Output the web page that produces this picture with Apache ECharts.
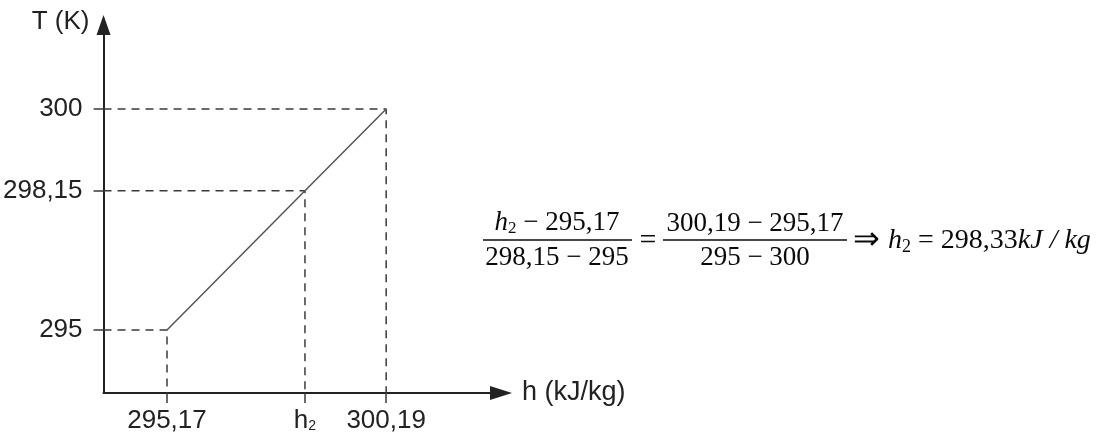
<!DOCTYPE html>
<html>
<head>
<meta charset="utf-8">
<script src="https://cdn.jsdelivr.net/npm/echarts@6/dist/echarts.min.js"></script>
<style>
  html, body { margin: 0; padding: 0; background: #fff; }
  #chart { width: 1110px; height: 436px; }
</style>
</head>
<body>
<div id="chart"></div>
<script>
// Linear interpolation between two tabulated states: enthalpy (kJ/kg) vs temperature (K)
const hValues = [295.17, 298.33, 300.19];
const tValues = [295, 298.15, 300];
const hTickLabels = ['295,17', 'h{sub|2}', '300,19'];
const tTickLabels = ['295', '298,15', '300'];

// Axis extents (leave room between the origin and the first tabulated state)
const X_MIN = 293.716, X_MAX = 302.82;
const Y_MIN = 293.575, Y_MAX = 301.90;

const fmt = v => String(v).replace('.', ',');
const lookup = (vals, labels) => v => {
  const i = vals.findIndex(a => Math.abs(a - v) < 1e-6);
  return i >= 0 ? labels[i] : '';
};

const AXIS_COLOR = '#222';
const GUIDE_COLOR = '#3a3a3a';
const SANS = 'Liberation Sans, Arial, sans-serif';
const LABEL_FONT = { fontFamily: SANS, fontSize: 26, color: '#222' };

// Dashed guides from each state down to the h-axis and across to the T-axis
const guideSeries = hValues.map((h, i) => ({
  type: 'line',
  data: [[X_MIN, tValues[i]], [h, tValues[i]], [h, Y_MIN]],
  showSymbol: false,
  symbol: 'none',
  silent: true,
  lineStyle: { color: GUIDE_COLOR, width: 1.5, type: [8, 6] },
  z: 2
}));

// Interpolation formula typeset beside the plot
const SERIF = "'Liberation Serif', 'Times New Roman', serif";
const INK = '#0a0a0a';
const eqFont = `27px ${SERIF}`;
const eqRich = {
  i: { font: `italic 27px ${SERIF}`, fill: INK },
  s: { font: `17px ${SERIF}`, fill: INK, padding: [12, 0, 0, 0] },
  n: { font: eqFont, fill: INK }
};
const resRich = {
  a: { font: `32px ${SERIF}`, fill: INK },
  i: { font: `italic 28px ${SERIF}`, fill: INK },
  s: { font: `18px ${SERIF}`, fill: INK, padding: [13, 0, 0, 0] },
  n: { font: `28px ${SERIF}`, fill: INK }
};
const M = '\u2212';

const chart = echarts.init(document.getElementById('chart'), null, { renderer: 'canvas' });
chart.setOption({
  animation: false,
  backgroundColor: '#fff',
  grid: { left: 102, right: 609, top: 25, bottom: 43, containLabel: false },
  xAxis: {
    type: 'value',
    min: X_MIN,
    max: X_MAX,
    name: 'h (kJ/kg)',
    nameLocation: 'end',
    nameGap: 21,
    nameTextStyle: Object.assign({}, LABEL_FONT, { fontSize: 27, align: 'left', verticalAlign: 'middle' }),
    axisLine: {
      onZero: false,
      symbol: ['none', 'triangle'],
      symbolSize: [14, 22],
      lineStyle: { color: AXIS_COLOR, width: 2 }
    },
    axisTick: { show: true, customValues: hValues, length: 10, lineStyle: { color: GUIDE_COLOR, width: 1.5 } },
    axisLabel: {
      customValues: hValues,
      margin: 15,
      formatter: lookup(hValues, hTickLabels),
      ...LABEL_FONT,
      rich: {
        sub: { fontFamily: SANS, fontSize: 14, color: '#222', padding: [11, 0, 0, 0] }
      }
    },
    splitLine: { show: false }
  },
  yAxis: {
    type: 'value',
    min: Y_MIN,
    max: Y_MAX,
    name: 'T (K)',
    nameLocation: 'end',
    nameGap: 3,
    nameTextStyle: Object.assign({}, LABEL_FONT, { align: 'right', verticalAlign: 'middle', padding: [0, 14, 0, 0] }),
    axisLine: {
      onZero: false,
      symbol: ['none', 'triangle'],
      symbolSize: [14, 20],
      lineStyle: { color: AXIS_COLOR, width: 2 }
    },
    axisTick: { show: true, customValues: tValues, length: 10, lineStyle: { color: GUIDE_COLOR, width: 1.5 } },
    axisLabel: {
      customValues: tValues,
      margin: 21,
      formatter: lookup(tValues, tTickLabels),
      ...LABEL_FONT
    },
    splitLine: { show: false }
  },
  series: [
    {
      type: 'line',
      data: hValues.map((h, i) => [h, tValues[i]]),
      showSymbol: false,
      symbol: 'none',
      silent: true,
      lineStyle: { color: '#555', width: 1.5 },
      z: 3
    },
    ...guideSeries
  ],
  graphic: [
    // first fraction
    { type: 'text', x: 557, y: 237, style: { text: `{i|h}{s|2}{n| ${M} ${fmt(hValues[0])}}`, rich: eqRich, font: eqFont, align: 'center', verticalAlign: 'bottom' } },
    { type: 'line', shape: { x1: 483, y1: 240, x2: 632, y2: 240 }, style: { stroke: INK, lineWidth: 1.5 } },
    { type: 'text', x: 557, y: 244, style: { text: `${fmt(tValues[1])} ${M} ${fmt(tValues[0])}`, font: eqFont, fill: INK, align: 'center', verticalAlign: 'top' } },
    { type: 'text', x: 648, y: 241, style: { text: '=', font: `30px ${SERIF}`, fill: INK, align: 'center', verticalAlign: 'middle' } },
    // second fraction
    { type: 'text', x: 755, y: 237, style: { text: `${fmt(hValues[2])} ${M} ${fmt(hValues[0])}`, font: eqFont, fill: INK, align: 'center', verticalAlign: 'bottom' } },
    { type: 'line', shape: { x1: 663, y1: 240, x2: 847, y2: 240 }, style: { stroke: INK, lineWidth: 1.5 } },
    { type: 'text', x: 755, y: 244, style: { text: `${fmt(tValues[0])} ${M} ${fmt(tValues[2])}`, font: eqFont, fill: INK, align: 'center', verticalAlign: 'top' } },
    // result
    { type: 'text', x: 853, y: 241, style: { text: `{a|\u21D2 }{i|h}{s|2}{n| = ${fmt(hValues[1])}}{i|kJ / kg}`, rich: resRich, align: 'left', verticalAlign: 'middle' } }
  ]
});
</script>
</body>
</html>
